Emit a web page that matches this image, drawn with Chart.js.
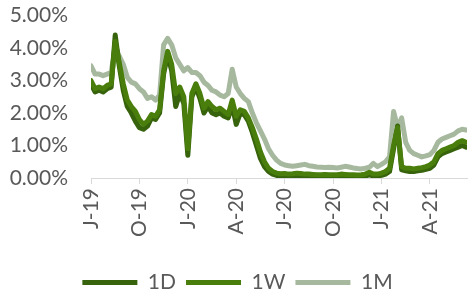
<!DOCTYPE html>
<html lang="en">
<head>
    <meta charset="UTF-8">
    <title>Rates 1D / 1W / 1M</title>
    <script src="https://cdn.jsdelivr.net/npm/chart.js"></script>
    <style>
        html, body { margin: 0; padding: 0; background: #fff; }
        .chart-box { width: 468px; height: 289px; position: relative; }
    </style>
</head>
<body>
    <div class="chart-box">
        <canvas id="rateChart"></canvas>
    </div>

    <script>
        // x axis: ticks every quarter, starting July 2019 (value = months since Jul-19)
        const tickMonths = [0, 3, 6, 9, 12, 15, 18, 21];
        const tickLabels = ['J-19', 'O-19', 'J-20', 'A-20', 'J-20', 'O-20', 'J-21', 'A-21'];

        // weekly readings, in percent
        const rates1D = [
            2.9, 2.65, 2.7, 2.65, 2.75, 2.8, 4.4, 3.45, 2.7, 2.2,
            2.0, 1.75, 1.55, 1.5, 1.6, 1.85, 1.8, 2.0, 3.2, 3.8,
            3.3, 2.2, 2.6, 2.3, 0.7, 2.5, 2.8, 2.45, 2.0, 2.2,
            2.0, 1.95, 2.0, 1.9, 1.85, 2.25, 1.65, 2.0, 1.95, 1.75,
            1.4, 1.0, 0.6, 0.35, 0.2, 0.12, 0.08, 0.07, 0.08, 0.06,
            0.07, 0.08, 0.08, 0.06, 0.06, 0.05, 0.05, 0.05, 0.06, 0.05,
            0.05, 0.05, 0.06, 0.06, 0.05, 0.05, 0.04, 0.05, 0.06, 0.1,
            0.06, 0.06, 0.08, 0.12, 0.2, 0.9, 1.6, 0.25, 0.22, 0.2,
            0.2, 0.22, 0.24, 0.27, 0.3, 0.4, 0.65, 0.75, 0.8, 0.85,
            0.9, 0.95, 1.0, 0.95
        ];
        const rates1W = [
            3.0, 2.75, 2.8, 2.75, 2.85, 2.9, 4.2, 3.55, 2.9, 2.4,
            2.2, 2.05, 1.8, 1.65, 1.75, 1.95, 1.9, 2.1, 3.3, 3.9,
            3.5, 2.6, 2.8, 2.5, 0.9, 2.6, 2.9, 2.6, 2.15, 2.35,
            2.2, 2.1, 2.15, 2.05, 1.95, 2.4, 1.9, 2.1, 2.05, 1.85,
            1.55, 1.2, 0.8, 0.5, 0.3, 0.2, 0.15, 0.13, 0.14, 0.12,
            0.13, 0.15, 0.14, 0.12, 0.12, 0.11, 0.1, 0.1, 0.11, 0.1,
            0.1, 0.1, 0.12, 0.11, 0.1, 0.1, 0.09, 0.1, 0.12, 0.18,
            0.12, 0.12, 0.15, 0.2, 0.3, 1.0, 1.55, 0.35, 0.3, 0.3,
            0.28, 0.3, 0.32, 0.35, 0.4, 0.5, 0.75, 0.85, 0.9, 0.95,
            1.0, 1.1, 1.15, 1.1
        ];
        const rates1M = [
            3.45, 3.2, 3.2, 3.15, 3.2, 3.25, 4.05, 3.75, 3.5, 3.1,
            2.95, 2.9, 2.75, 2.65, 2.45, 2.5, 2.4, 2.55, 4.1, 4.3,
            4.1, 3.7, 3.5, 3.3, 3.4, 3.25, 3.25, 3.15, 2.95, 2.85,
            2.7, 2.65, 2.55, 2.5, 2.6, 3.35, 2.8, 2.6, 2.45, 2.35,
            2.0, 1.7, 1.45, 1.2, 0.9, 0.7, 0.55, 0.45, 0.4, 0.38,
            0.36, 0.38, 0.4, 0.42, 0.38, 0.36, 0.34, 0.33, 0.32, 0.33,
            0.32, 0.31, 0.33, 0.36, 0.34, 0.31, 0.29, 0.28, 0.3, 0.33,
            0.45, 0.35, 0.42, 0.5, 0.65, 2.05, 1.55, 1.85, 1.1, 0.85,
            0.75, 0.7, 0.65, 0.68, 0.72, 0.85, 1.1, 1.2, 1.25, 1.3,
            1.35, 1.45, 1.5, 1.48
        ];

        // one reading per week -> quarter of a month
        const toPoints = arr => arr.map((v, i) => ({ x: i / 4, y: v }));

        const textColor = '#595959';
        const fontSpec = { family: 'Lato', size: 21 };

        function series(label, data, color, order) {
            return {
                label,
                data: toPoints(data),
                borderColor: color,
                backgroundColor: color,
                borderWidth: 5,
                borderCapStyle: 'round',
                borderJoinStyle: 'round',
                pointRadius: 0,
                tension: 0,
                fill: false,
                order
            };
        }

        const chart = new Chart(document.getElementById('rateChart'), {
            type: 'line',
            data: {
                datasets: [
                    series('1D', rates1D, '#36630b', 1),
                    series('1W', rates1W, '#4a7e0c', 0),
                    series('1M', rates1M, '#a6b99e', 2)
                ]
            },
            options: {
                responsive: true,
                maintainAspectRatio: false,
                animation: false,
                // negative bottom padding pushes the legend down to the canvas edge
                layout: { padding: { left: 8, right: 1, top: 0, bottom: -14 } },
                scales: {
                    x: {
                        type: 'linear',
                        min: 0,
                        max: 23.3,
                        afterBuildTicks: scale => {
                            scale.ticks = tickMonths.map(v => ({ value: v }));
                        },
                        afterFit: scale => { scale.height = 84; },
                        grid: {
                            drawOnChartArea: false,
                            drawTicks: true,
                            tickLength: 6,
                            color: '#d9d9d9'
                        },
                        border: { display: true, color: '#d9d9d9', width: 1 },
                        ticks: {
                            autoSkip: false,
                            minRotation: 90,
                            maxRotation: 90,
                            padding: 4,
                            color: textColor,
                            font: fontSpec,
                            callback: value => tickLabels[tickMonths.indexOf(value)]
                        }
                    },
                    y: {
                        min: 0,
                        max: 5,
                        afterFit: scale => { scale.width = 83; },
                        // invisible tick marks keep the gap between labels and plot
                        grid: {
                            drawOnChartArea: false,
                            drawTicks: true,
                            tickLength: 20,
                            color: 'rgba(0,0,0,0)'
                        },
                        border: { display: false },
                        ticks: {
                            autoSkip: false,
                            stepSize: 1,
                            padding: 3,
                            color: textColor,
                            font: fontSpec,
                            callback: v => v.toFixed(2) + '%'
                        }
                    }
                },
                plugins: {
                    legend: {
                        position: 'bottom',
                        labels: {
                            usePointStyle: true,
                            pointStyle: 'line',
                            pointStyleWidth: 55,
                            padding: 10,
                            color: textColor,
                            font: fontSpec,
                            sort: (a, b) => a.datasetIndex - b.datasetIndex
                        }
                    },
                    tooltip: { enabled: false }
                }
            }
        });
    </script>
</body>
</html>
